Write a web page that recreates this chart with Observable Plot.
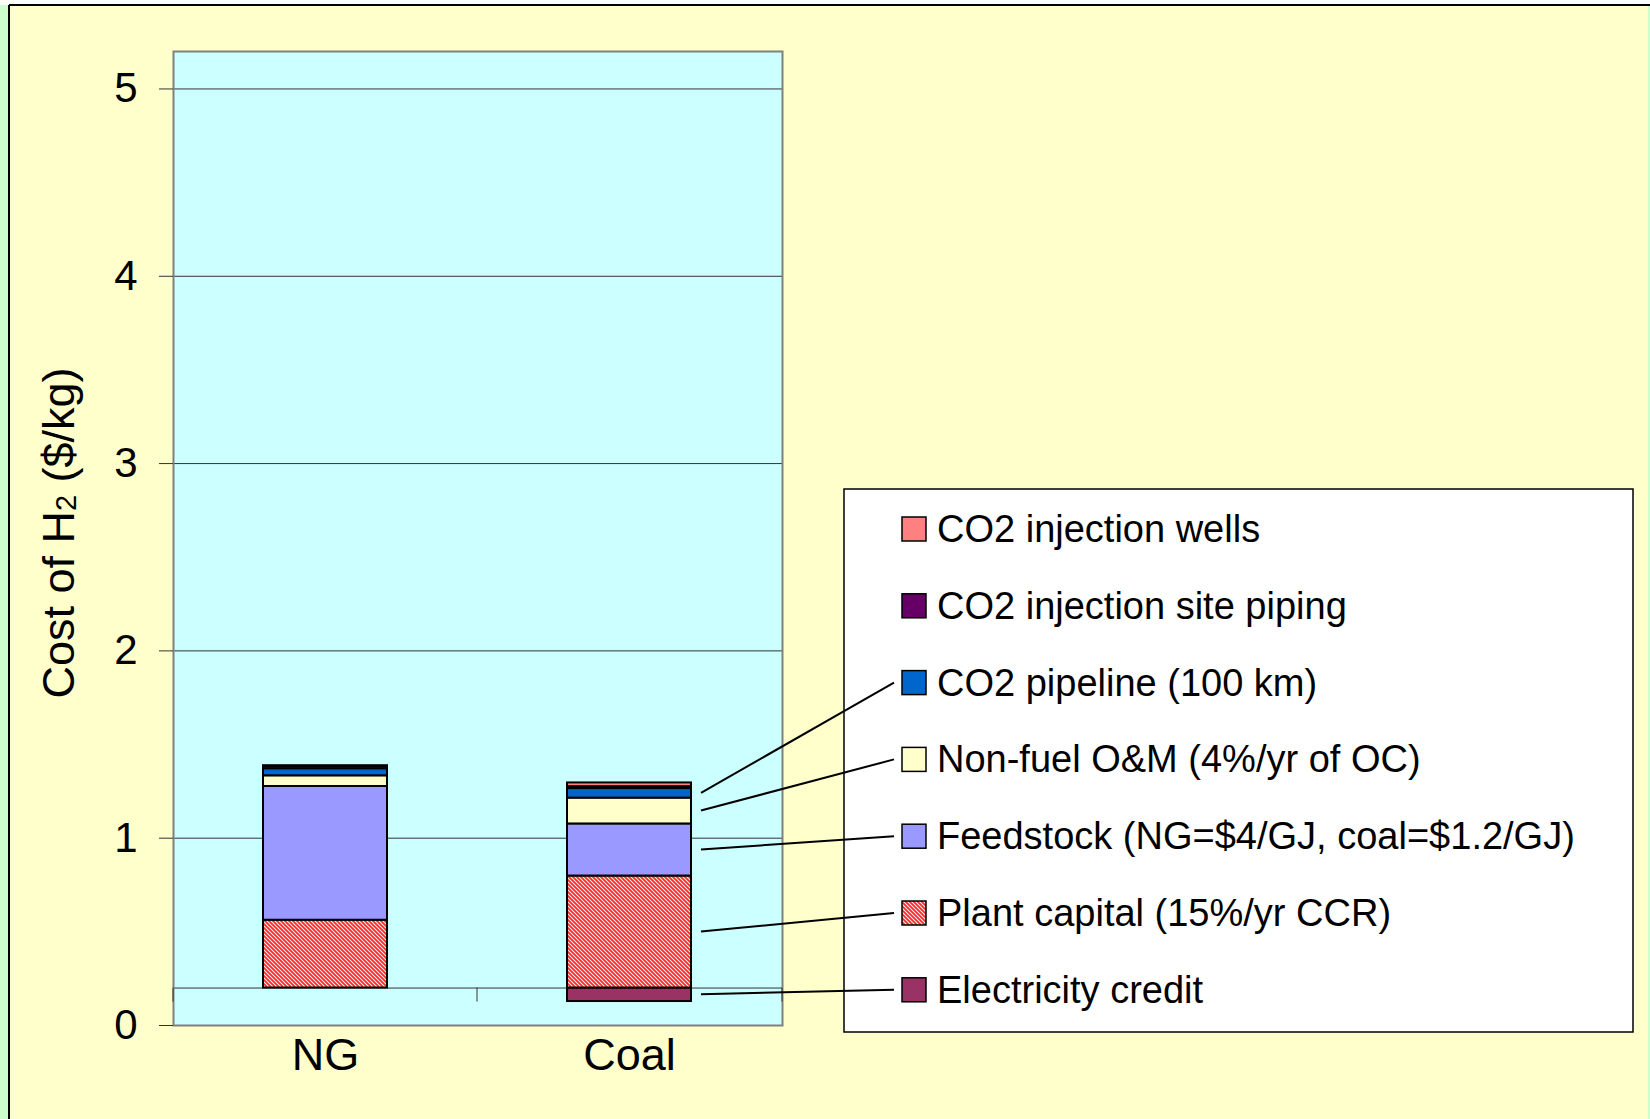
<!DOCTYPE html>
<html><head><meta charset="utf-8">
<script src="https://cdn.jsdelivr.net/npm/d3@7"></script>
<script src="https://cdn.jsdelivr.net/npm/@observablehq/plot@0.6"></script>
<style>
html,body{margin:0;padding:0;background:#CCFFCC;overflow:hidden;}
#chart{position:absolute;left:0;top:0;}
</style></head><body><div id="chart"></div>
<script>
// ---- data ----
const categories = ["NG", "Coal"];
const seriesNames = [
  "Electricity credit",
  "Plant capital (15%/yr CCR)",
  "Feedstock (NG=$4/GJ, coal=$1.2/GJ)",
  "Non-fuel O&M (4%/yr of OC)",
  "CO2 pipeline (100 km)",
  "CO2 injection site piping",
  "CO2 injection wells"
];
const seriesColors = ["#993366", "url(#hatch)", "#9999FF", "#FFFFCC", "#0066CC", "#660066", "#FF8080"];
const ngValues   = [0,      0.362, 0.714, 0.057, 0.038, 0.012, 0.004];
const coalValues = [-0.072, 0.598, 0.278, 0.138, 0.051, 0.010, 0.020];
const axisCross = 0.2;
const yTicks = [0, 1, 2, 3, 4, 5];
const gridTicks = [1, 2, 3, 4, 5];
const yMax = 5.2;
const leaderSeries = [
  "CO2 pipeline (100 km)",
  "Non-fuel O&M (4%/yr of OC)",
  "Feedstock (NG=$4/GJ, coal=$1.2/GJ)",
  "Plant capital (15%/yr CCR)",
  "Electricity credit"
];
const yTitle = ["Cost of H", "2", " ($/kg)"];

// ---- stacking from the axis crossing ----
const rows = [];
[ngValues, coalValues].forEach((vals, ci) => {
  let pos = axisCross, neg = axisCross;
  vals.forEach((v, si) => {
    if (v === 0) return;
    let y1, y2;
    if (v > 0) { y1 = pos; y2 = pos + v; pos += v; }
    else { y1 = neg + v; y2 = neg; neg += v; }
    rows.push({category: categories[ci], series: seriesNames[si], value: v, y1, y2});
  });
});

const font = "'Liberation Sans', Arial, Helvetica, sans-serif";

const chart = Plot.plot({
  width: 1650, height: 1119,
  marginLeft: 173, marginRight: 868, marginTop: 51, marginBottom: 94,
  x: {domain: categories, paddingInner: 0.592, paddingOuter: 0.296, label: null},
  y: {domain: [0, yMax], label: null},
  color: {domain: seriesNames, range: seriesColors},
  style: {background: "transparent", fontFamily: font, color: "#000", overflow: "visible"},
  marks: [
    Plot.frame({fill: "#CCFFFF", stroke: null}),
    Plot.gridY({ticks: gridTicks, stroke: "#333", strokeOpacity: 1, strokeWidth: 1}),
    Plot.ruleY([axisCross], {stroke: "#333", strokeWidth: 1}),
    Plot.rectY(rows, {x: "category", y1: "y1", y2: "y2", fill: "series", stroke: "#000", strokeWidth: 2}),
    Plot.frame({stroke: "#808080", strokeWidth: 2}),
    Plot.axisY({ticks: yTicks, tickFormat: d => String(d), tickSize: 14, tickPadding: 22, fontSize: 42, stroke: "#333", label: null}),
    Plot.axisX({tickSize: 0, tickPadding: 13, fontSize: 45, label: null})
  ]
});

const svg = d3.select(chart);
const xs = chart.scale("x");
const ys = chart.scale("y");

// background panel and border
svg.insert("rect", ":first-child").attr("x", 9).attr("y", 5).attr("width", 1639).attr("height", 1120).attr("fill", "#FFFFCC");
svg.insert("rect", ":first-child").attr("x", 0).attr("y", 0).attr("width", 1650).attr("height", 5).attr("fill", "#FAFFFA");
svg.append("line").attr("x1", 9).attr("x2", 1650).attr("y1", 5).attr("y2", 5).attr("stroke", "#000").attr("stroke-width", 2);
svg.append("line").attr("x1", 9).attr("x2", 9).attr("y1", 5).attr("y2", 1119).attr("stroke", "#000").attr("stroke-width", 2);

// hatch pattern
svg.insert("defs", ":first-child").html(
  '<pattern id="hatch" patternUnits="userSpaceOnUse" width="4" height="4">' +
  '<rect width="4" height="4" fill="#FFE4E4"/>' +
  '<path d="M-1,-1 L5,5 M-1,3 L1,5 M3,-1 L5,1" stroke="#FF2828" stroke-width="1.7"/>' +
  '</pattern>');

// category axis ticks on the crossing line
const frameL = 173, frameR = 1650 - 868;
const crossY = ys.apply(axisCross);
const midX = (xs.apply(categories[0]) + xs.bandwidth + xs.apply(categories[1])) / 2;
[frameL, midX, frameR].forEach(x => {
  svg.append("line").attr("x1", x).attr("x2", x).attr("y1", crossY).attr("y2", crossY + 14)
    .attr("stroke", "#333").attr("stroke-width", 1);
});

// y title
const t = svg.append("text").attr("transform", "translate(74,533) rotate(-90)")
  .attr("text-anchor", "middle").attr("font-family", font).attr("font-size", 45).attr("fill", "#000");
t.append("tspan").text(yTitle[0]);
t.append("tspan").attr("font-size", 29).attr("dy", 2).text(yTitle[1]);
t.append("tspan").attr("dy", -2).text(yTitle[2]);

// legend
const lg = {x: 844, y: 489, w: 789, h: 543, first: 529, step: 76.8, sw: 902, tx: 937};
const legendOrder = seriesNames.slice().reverse();
const g = svg.append("g").attr("text-anchor", "start");
g.append("rect").attr("x", lg.x).attr("y", lg.y).attr("width", lg.w).attr("height", lg.h)
  .attr("fill", "#FFFFFF").attr("stroke", "#000").attr("stroke-width", 1.5);
const rowY = name => lg.first + legendOrder.indexOf(name) * lg.step;
legendOrder.forEach(name => {
  const cy = rowY(name);
  g.append("rect").attr("x", lg.sw).attr("y", cy - 12).attr("width", 24).attr("height", 24)
    .attr("fill", seriesColors[seriesNames.indexOf(name)]).attr("stroke", "#000").attr("stroke-width", 1.5);
  g.append("text").attr("x", lg.tx).attr("y", cy + 13).attr("text-anchor", "start")
    .attr("font-family", font).attr("font-size", 38).attr("fill", "#000").text(name);
});

// leader lines from coal bar segments to legend entries
const coalRight = xs.apply("Coal") + xs.bandwidth;
leaderSeries.forEach(name => {
  const r = rows.find(d => d.category === "Coal" && d.series === name);
  const mid = (r.y1 + r.y2) / 2;
  svg.append("line").attr("x1", coalRight + 10).attr("y1", ys.apply(mid))
    .attr("x2", 894).attr("y2", rowY(name)).attr("stroke", "#000").attr("stroke-width", 2);
});

document.getElementById("chart").appendChild(chart);
</script>
</body></html>
